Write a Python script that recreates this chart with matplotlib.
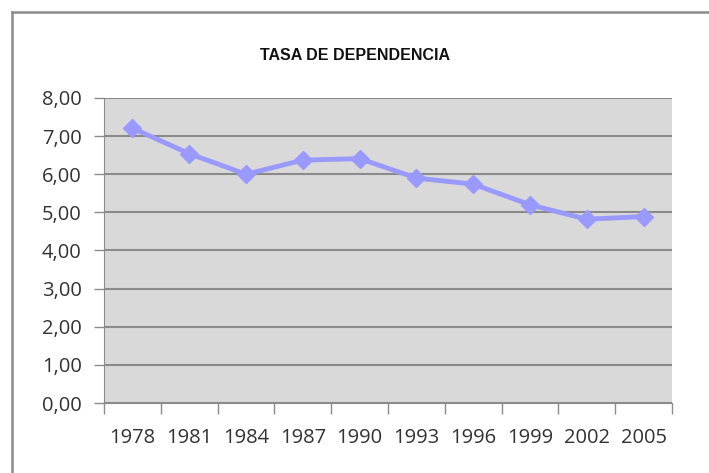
import matplotlib.pyplot as plt
from matplotlib.lines import Line2D
from matplotlib.ticker import FuncFormatter

# Data
years = ["1978", "1981", "1984", "1987", "1990", "1993", "1996", "1999", "2002", "2005"]
tasa = [7.21, 6.54, 6.00, 6.37, 6.41, 5.90, 5.74, 5.20, 4.82, 4.89]
y_ticks = [0, 1, 2, 3, 4, 5, 6, 7, 8]

x = range(len(years))

fig = plt.figure(figsize=(7.09, 4.73), dpi=100)
ax = fig.add_axes([104/709, 1 - 403/473, (672 - 104)/709, (403 - 98)/473])
ax.set_facecolor("#d9d9d9")

# outer chart border (left and top visible)
fig.add_artist(Line2D([12/709, 12/709], [0, 1 - 12/473], transform=fig.transFigure,
                      color="#8c8c8c", lw=1.8))
fig.add_artist(Line2D([12/709, 1], [1 - 12/473, 1 - 12/473], transform=fig.transFigure,
                      color="#8c8c8c", lw=1.8))

ax.plot(x, tasa, color="#9999ff", lw=3.5, marker="D", markersize=9,
        markeredgecolor="#9999ff", zorder=3)

ax.set_xlim(-0.5, len(years) - 0.5)
ax.set_ylim(0, 8)
ax.set_yticks(y_ticks)
ax.yaxis.set_major_formatter(FuncFormatter(lambda v, p: f"{v:.2f}".replace(".", ",")))
ax.grid(axis="y", color="#8a8a8a", lw=1.5)
ax.set_axisbelow(True)

# ticks at category boundaries, labels centred
ax.set_xticks([i - 0.5 for i in range(len(years) + 1)])
ax.set_xticklabels([])
ax.set_xticks(list(x), minor=True)
ax.set_xticklabels(years, minor=True)
ax.tick_params(axis="x", which="major", direction="out", length=8, color="#8c8c8c", width=1)
ax.tick_params(axis="x", which="minor", length=0, pad=18, labelsize=14.5, labelcolor="#333333")
ax.tick_params(axis="y", direction="out", length=7, color="#8c8c8c", width=1,
               labelsize=14.5, labelcolor="#333333", pad=9)

for s in ["top", "right"]:
    ax.spines[s].set_visible(False)
ax.spines["left"].set_color("#8c8c8c")
ax.spines["bottom"].set_color("#8c8c8c")

fig.text(355/709, 1 - 55/473, "TASA DE DEPENDENCIA", ha="center", va="center",
         fontsize=11.5, fontweight="bold", family="Liberation Sans", color="#111111")

for t in ax.get_xticklabels(minor=True) + ax.get_yticklabels():
    t.set_family("Open Sans")

fig.savefig("out.png", dpi=100)
